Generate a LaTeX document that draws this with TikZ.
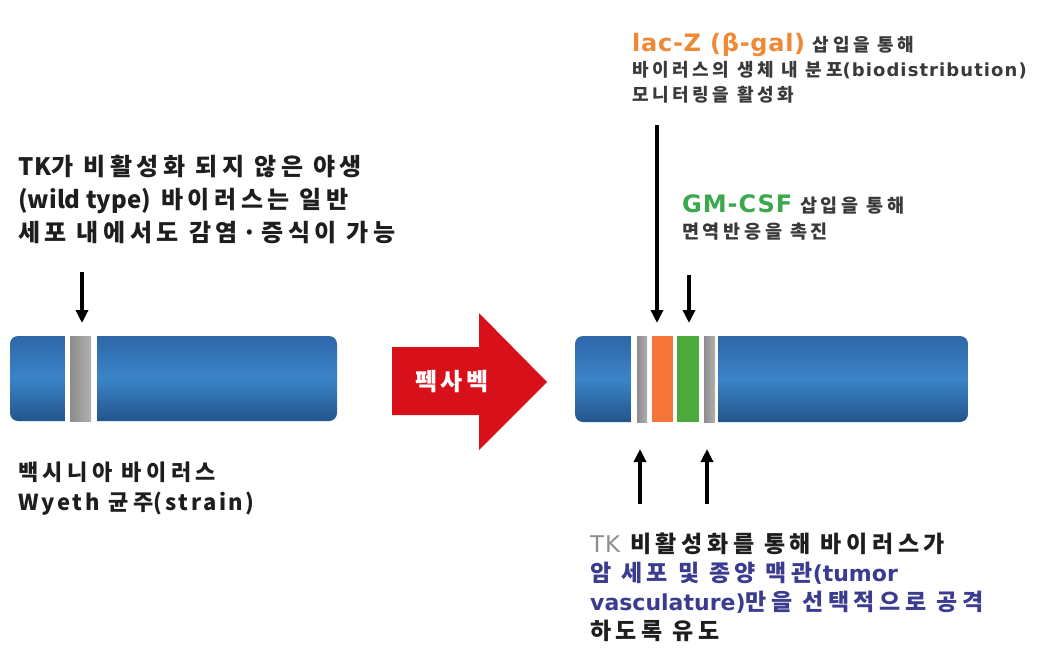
\documentclass[tikz,border=0pt]{standalone}
\usepackage{fontspec}
\setmainfont{Noto Sans CJK KR}
\newfontfamily\lat{DejaVu Sans}
\usetikzlibrary{arrows.meta}
\newcommand{\ls}[1]{\addfontfeatures{LetterSpace=#1}}
\definecolor{barmid}{HTML}{3B84C8}
\definecolor{bartop}{HTML}{2E67A8}
\definecolor{barbot}{HTML}{23548C}
\definecolor{bandgray}{HTML}{B0B0B0}
\definecolor{bandgraydk}{HTML}{8C8C8C}
\definecolor{orangeband}{HTML}{F5753A}
\definecolor{greenband}{HTML}{4CAA3C}
\definecolor{lacorange}{HTML}{EE8A35}
\definecolor{gmgreen}{HTML}{3BA84E}
\definecolor{tkgray}{HTML}{8E8E8E}
\definecolor{navy}{HTML}{3B3B8F}
\definecolor{txtdark}{HTML}{1E1E1E}
\definecolor{txtgray}{HTML}{3A3A3A}
\definecolor{arrowred}{HTML}{D8101A}
\tikzset{
  bluebar/.style={top color=bartop, bottom color=barbot, middle color=barmid, draw=none},
  grayband/.style={left color=bandgraydk, right color=bandgray, draw=none, inner sep=0pt},
  ptr/.style={-{Triangle[length=13pt,width=12pt]}, line width=3.4pt, black},
  lbl/.style={inner sep=0pt, anchor=base west, align=left},
}
\begin{document}
\begin{tikzpicture}[x=1pt,y=-1pt]
\useasboundingbox[fill=white] (0,0) rectangle (1060,654);
% left bar
\path[bluebar, rounded corners=8pt] (10,336) rectangle (337,421);
\fill[white] (65,334) rectangle (97,423);
\node[grayband, minimum width=21pt, minimum height=85pt] (lgray) at (80.5,378.5) {};
% right bar
\path[bluebar, rounded corners=8pt] (575,336) rectangle (968,422);
\fill[white] (631,334) rectangle (718,424);
\node[grayband, minimum width=10pt, minimum height=86pt] (rgray1) at (642,379) {};
\node[fill=orangeband, minimum width=21pt, minimum height=86pt, inner sep=0pt] (orange) at (662.5,379) {};
\node[fill=greenband, minimum width=22pt, minimum height=86pt, inner sep=0pt] (green) at (688,379) {};
\node[grayband, minimum width=11pt, minimum height=86pt] (rgray2) at (709.5,379) {};
% red arrow
\fill[arrowred] (392,347) -- (479,347) -- (479,313) -- (547,382) -- (479,450) -- (479,415) -- (392,415) -- cycle;
\node[text=white, font=\bfseries\fontsize{24}{26}\selectfont\ls{14}, inner sep=0pt] (pexalbl) at (452,382) {펙사벡};
% left texts
\node[lbl, text=txtdark, font=\bfseries\fontsize{24}{33}\selectfont\ls{19}] (ltext) at (18,241)
  {{\ls{4}TK}가 비활성화 되지 않은 야생\\{\ls{0}(wild type)} 바이러스는 일반\\세포 내에서도 감염·증식이 가능};
\node[lbl, text=txtdark, font=\bfseries\fontsize{22}{30}\selectfont\ls{20}] (vlabel) at (18,510)
  {백시니아 바이러스\\{\ls{12}Wyeth} 균주{\ls{12}(strain)}};
% top right texts
\node[lbl, text=txtgray, font=\bfseries\fontsize{18}{25}\selectfont\ls{20}] (lactext) at (632,101)
  {{\color{lacorange}\lat\fontsize{24}{25}\selectfont\ls{3}lac-Z (β-gal)} 삽입을 통해\\바이러스의 생체 내 분포{\lat\ls{6}(biodistribution)}\\모니터링을 활성화};
\node[lbl, text=txtgray, font=\bfseries\fontsize{18.5}{26}\selectfont\ls{20}] (gmtext) at (682,238)
  {{\color{gmgreen}\lat\fontsize{24}{26}\selectfont\ls{4}GM-CSF} 삽입을 통해\\면역반응을 촉진};
% bottom text
\node[lbl, text=txtdark, font=\bfseries\fontsize{23}{29}\selectfont\ls{20}] (tktext) at (590,639)
  {{\color{tkgray}\lat\mdseries\ls{4}TK} 비활성화를 통해 바이러스가\\{\color{navy}암 세포 및 종양 맥관{\lat\fontsize{22}{29}\selectfont(tumor}}\\{\color{navy}{\lat\fontsize{22}{29}\selectfont vasculature)}만을 선택적으로 공격}\\하도록 유도};
% arrows
\coordinate (a1s) at (82,272);
\coordinate (a1e) at (82,323);
\draw[ptr] (a1s) -- (a1e);
\coordinate (a2s) at (657,125);
\coordinate (a2e) at (657,323);
\draw[ptr] (a2s) -- (a2e);
\coordinate (a3s) at (689,275);
\coordinate (a3e) at (689,323);
\draw[ptr] (a3s) -- (a3e);
\coordinate (a4s) at (640,504);
\coordinate (a4e) at (640,449);
\draw[ptr] (a4s) -- (a4e);
\coordinate (a5s) at (707,504);
\coordinate (a5e) at (707,449);
\draw[ptr] (a5s) -- (a5e);
\end{tikzpicture}
\end{document}
